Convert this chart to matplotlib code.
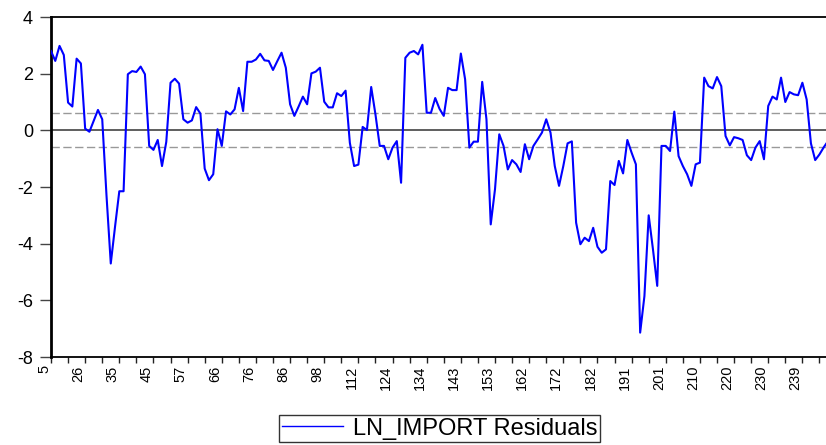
import numpy as np
import matplotlib
matplotlib.use('Agg')
import matplotlib.pyplot as plt

# residual values, one per observation (equally spaced on the axis)
resid = [
    2.8, 2.45, 2.98, 2.66, 0.98, 0.84, 2.53, 2.36, 0.06, -0.05,
    0.33, 0.72, 0.39, -2.3, -4.7, -3.4, -2.15, -2.15, 1.98, 2.09,
    2.06, 2.25, 1.98, -0.55, -0.69, -0.34, -1.26, -0.41, 1.68, 1.82,
    1.65, 0.39, 0.27, 0.35, 0.82, 0.59, -1.35, -1.76, -1.55, 0.04,
    -0.55, 0.67, 0.56, 0.74, 1.5, 0.68,
    2.42, 2.42, 2.5, 2.7, 2.47, 2.45, 2.13, 2.44, 2.74, 2.21,
    0.92, 0.51, 0.84, 1.19, 0.92, 2.01, 2.07, 2.21, 1.01, 0.81,
    0.81, 1.31, 1.21, 1.4, -0.44, -1.26, -1.21, 0.12, 0.01, 1.53,
    0.56, -0.55, -0.55, -1.02, -0.61, -0.38, -1.85, 2.56, 2.74, 2.8,
    2.68, 3.02, 0.62, 0.62, 1.14, 0.76,
    0.51, 1.5, 1.42, 1.42, 2.71, 1.8, -0.61, -0.4, -0.4, 1.71,
    0.39, -3.32, -2.08, -0.14, -0.55, -1.38, -1.05, -1.2, -1.47, -0.49,
    -1.02, -0.55, -0.32, -0.08, 0.39, -0.08, -1.26, -1.96, -1.26, -0.46,
    -0.39, -3.26, -4.02, -3.79, -3.91, -3.44, -4.11, -4.32, -4.2, -1.79,
    -1.93, -1.08, -1.52, -0.34, -0.79,
    -1.2, -7.14, -5.85, -3.0, -4.2, -5.49, -0.55, -0.55, -0.73, 0.66,
    -0.91, -1.26, -1.55, -1.96, -1.2, -1.14, 1.86, 1.56, 1.48, 1.88,
    1.56, -0.2, -0.53, -0.24, -0.28, -0.34, -0.88, -1.05, -0.61, -0.38,
    -1.02, 0.86, 1.19, 1.09, 1.86, 1.0, 1.35, 1.27, 1.24, 1.68,
    1.09, -0.46, -1.05, -0.85, -0.6, -0.38,
]
obs_labels = ['5', '26', '35', '45', '57', '66', '76', '86', '98', '112', '124',
              '134', '143', '153', '162', '172', '182', '191', '201', '210',
              '220', '230', '239']
band = 0.6  # +/- one standard error band

plt.rcParams['font.family'] = ['Liberation Sans', 'DejaVu Sans']

x = np.arange(len(resid))

fig = plt.figure(figsize=(8.26, 4.45), dpi=100)
ax = fig.add_axes([51/826., 88/445., 777/826., 340/445.])

ax.axhline(0, color='#333333', linewidth=1.1, zorder=1)
ax.axhline(band, color='#999999', linewidth=1.0, dashes=(6, 2.5), zorder=1)
ax.axhline(-band, color='#999999', linewidth=1.0, dashes=(6, 2.5), zorder=1)
line, = ax.plot(x, resid, color='#0000ff', linewidth=1.5, zorder=3,
                label='LN_IMPORT Residuals')

ax.set_xlim(0, len(resid) - 1)
ax.set_ylim(-8, 4)
ax.set_yticks(np.arange(-8, 5, 2))
ax.set_yticklabels([str(v) for v in range(-8, 5, 2)])
ax.set_xticks(np.arange(0, 8*len(obs_labels), 8))
ax.set_xticks(np.arange(4, len(resid), 8), minor=True)
ax.set_xticklabels(obs_labels, rotation=90, ha='right', va='top')

ax.tick_params(axis='y', direction='out', length=8, width=1, color='#444444',
               labelsize=13, pad=5)
ax.tick_params(axis='x', which='both', direction='out', length=4, width=1,
               color='#222222', labelsize=10.5, pad=2)

ax.spines['right'].set_visible(False)
ax.spines['left'].set_linewidth(2)
ax.spines['top'].set_linewidth(1.3)
ax.spines['bottom'].set_linewidth(1.3)

leg = fig.legend(handles=[line], loc='center', bbox_to_anchor=(439.5/826., 1 - 428.5/445.),
                 fontsize=17, frameon=True, fancybox=False, edgecolor='#333333',
                 handlelength=2.6, borderpad=0.12, handletextpad=0.4,
                 borderaxespad=0, framealpha=1)
leg.get_lines()[0].set_linewidth(1.0)

plt.savefig('out.png', dpi=100)
